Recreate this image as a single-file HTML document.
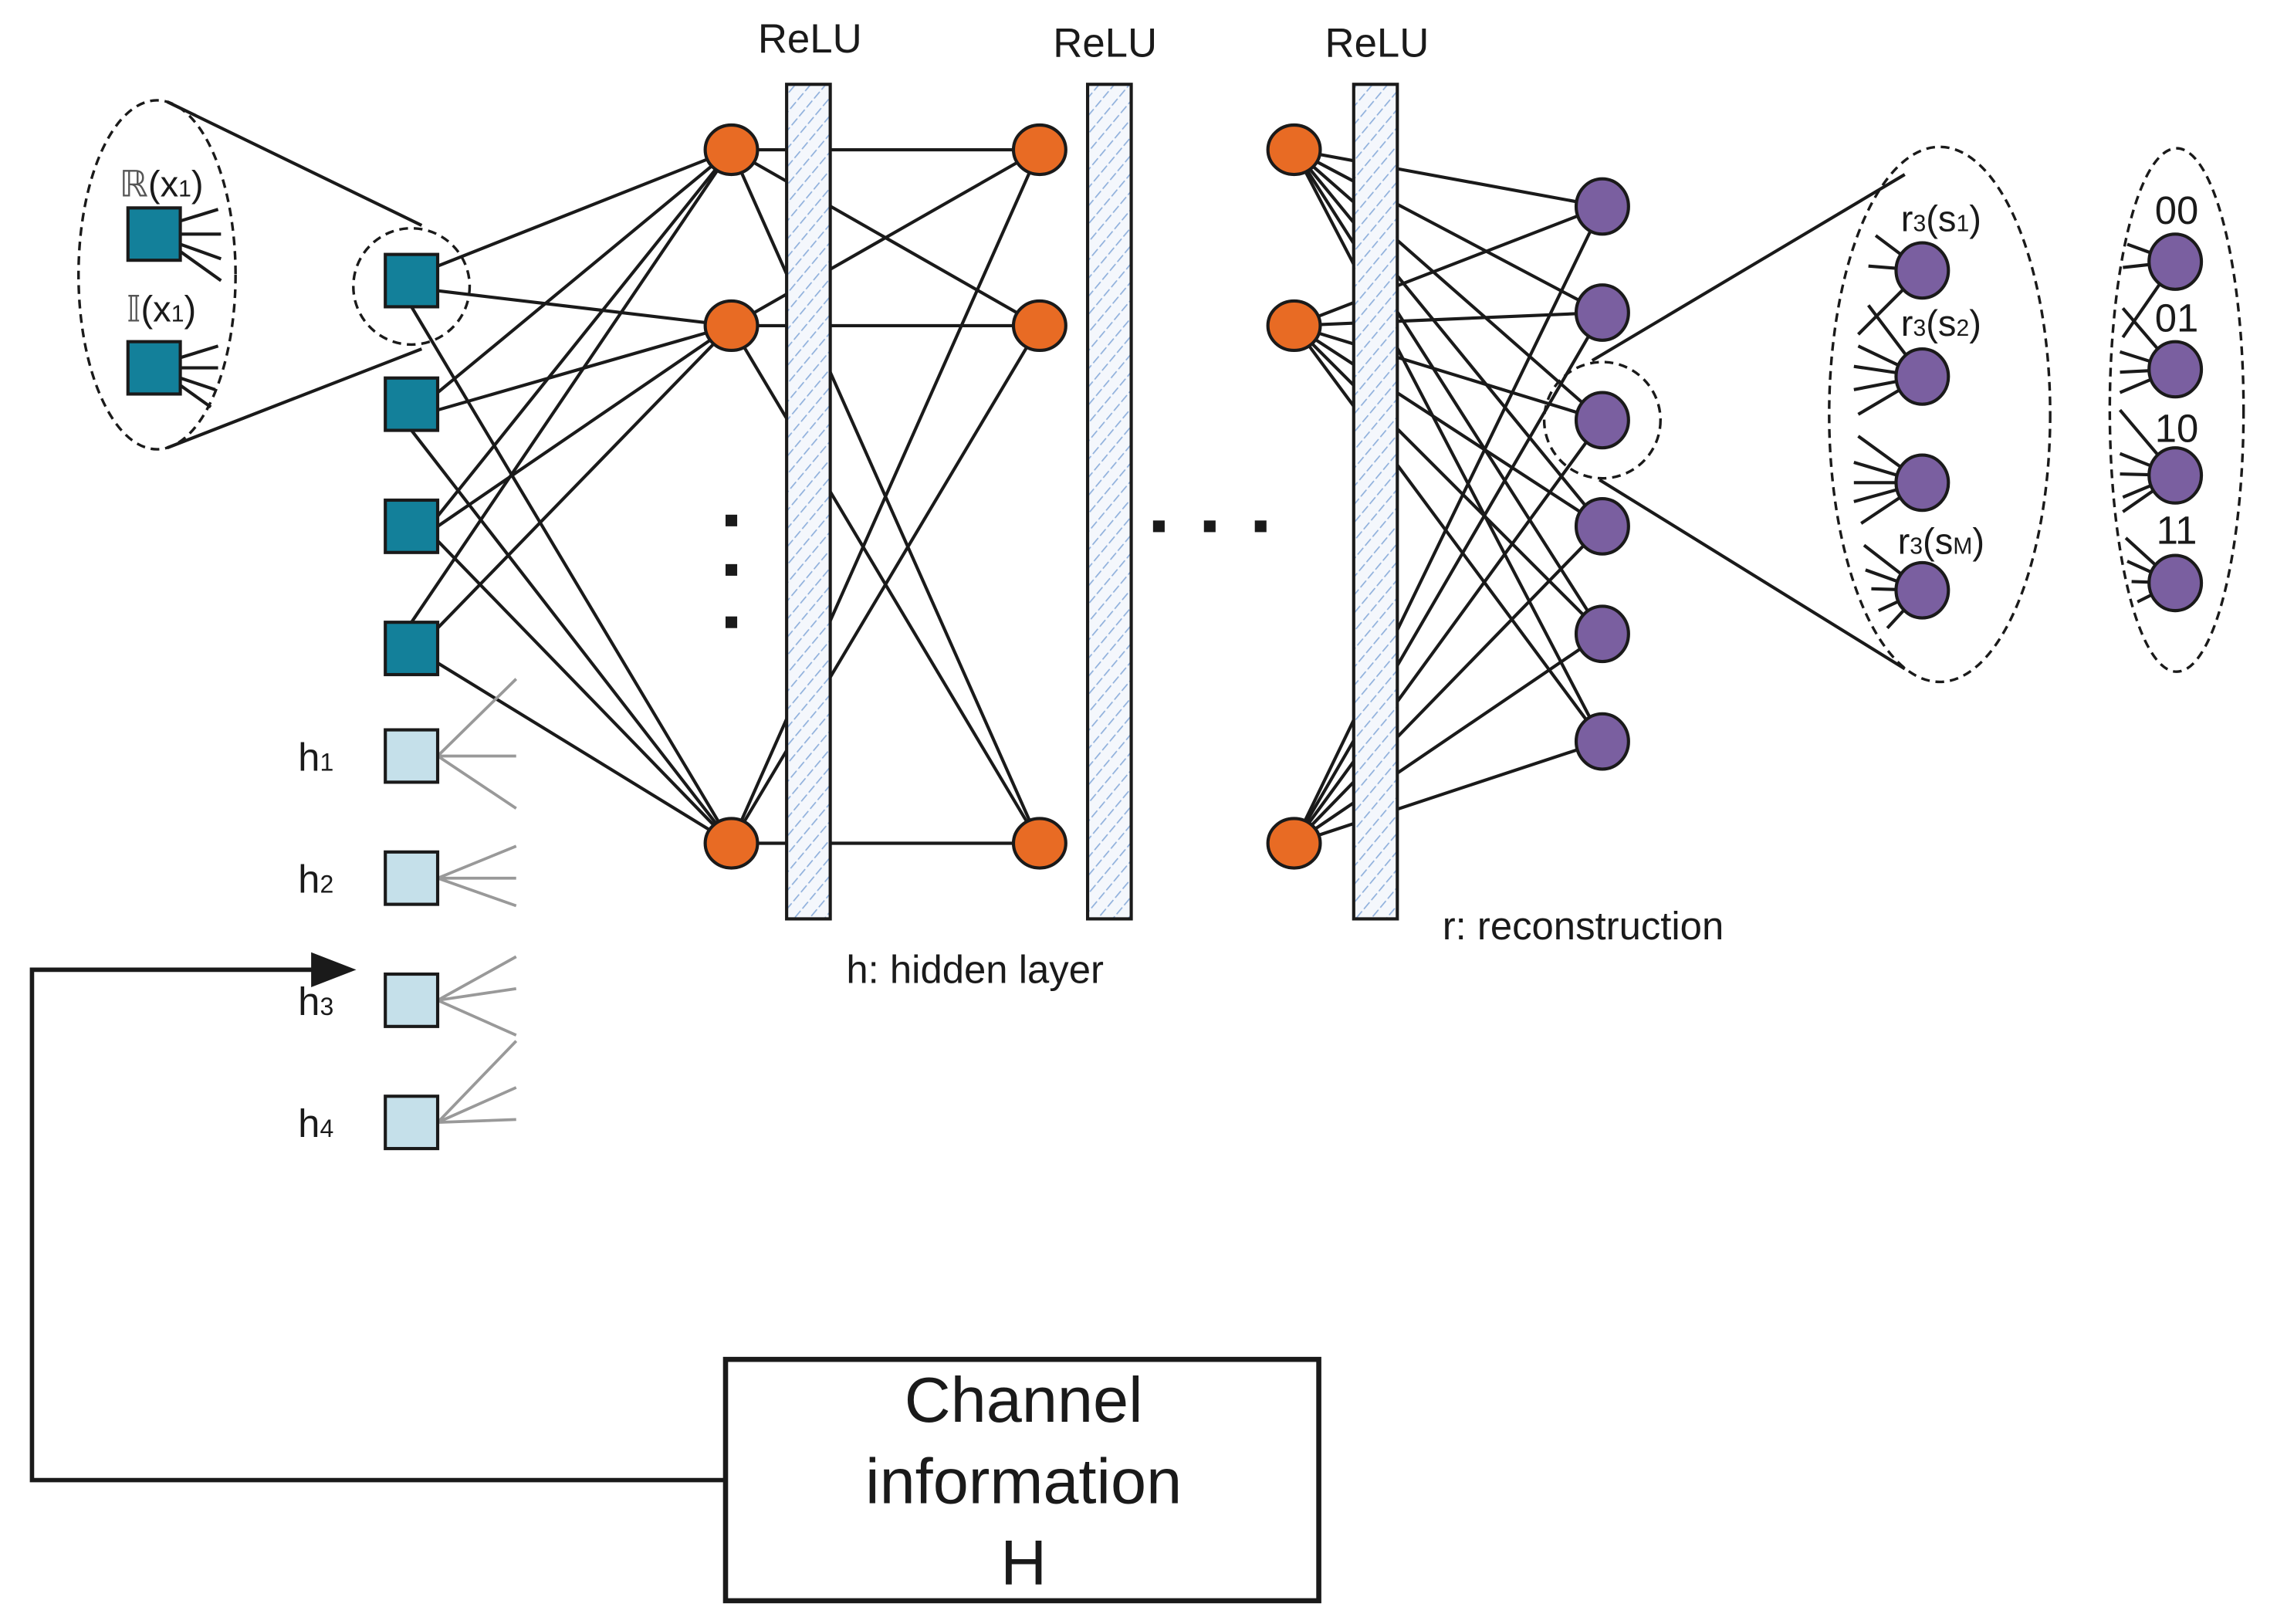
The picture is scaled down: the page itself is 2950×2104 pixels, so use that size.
<!DOCTYPE html>
<html><head><meta charset="utf-8"><style>html,body{margin:0;padding:0;background:#fff}svg{display:block}</style></head>
<body>
<svg xmlns="http://www.w3.org/2000/svg" width="2950" height="2104" viewBox="0 0 1566 1117" preserveAspectRatio="none" font-family="Liberation Sans, DejaVu Sans, sans-serif">
<defs>
<pattern id="hat" width="8" height="8" patternUnits="userSpaceOnUse" patternTransform="rotate(40)">
<rect width="8" height="8" fill="#f4f7fc"/><line x1="0" y1="0" x2="0" y2="8" stroke="#8fb0dc" stroke-width="1.8" stroke-dasharray="4 2"/>
</pattern>
</defs>
<rect width="1566" height="1117" fill="#fff"/>
<g stroke="#1a1a1a" stroke-width="2.2" fill="none">
<line x1="115" y1="70" x2="290" y2="155"/>
<line x1="115" y1="308" x2="290" y2="240"/>
<line x1="301" y1="183" x2="503" y2="103"/><line x1="301" y1="200" x2="503" y2="224"/><line x1="283" y1="211" x2="503" y2="580"/>
<line x1="301" y1="270" x2="503" y2="103"/><line x1="301" y1="282" x2="503" y2="224"/><line x1="283" y1="296" x2="503" y2="580"/>
<line x1="301" y1="355" x2="503" y2="103"/><line x1="301" y1="362" x2="503" y2="224"/><line x1="301" y1="372" x2="503" y2="580"/>
<line x1="283" y1="428" x2="503" y2="103"/><line x1="301" y1="432" x2="503" y2="224"/><line x1="301" y1="456" x2="503" y2="580"/>
<line x1="503" y1="103" x2="715" y2="103"/><line x1="503" y1="103" x2="715" y2="224"/><line x1="503" y1="103" x2="715" y2="580"/>
<line x1="503" y1="224" x2="715" y2="103"/><line x1="503" y1="224" x2="715" y2="224"/><line x1="503" y1="224" x2="715" y2="580"/>
<line x1="503" y1="580" x2="715" y2="103"/><line x1="503" y1="580" x2="715" y2="224"/><line x1="503" y1="580" x2="715" y2="580"/>
<line x1="890" y1="103" x2="1102" y2="142"/><line x1="890" y1="103" x2="1102" y2="215"/><line x1="890" y1="103" x2="1102" y2="289"/><line x1="890" y1="103" x2="1102" y2="362"/><line x1="890" y1="103" x2="1102" y2="436"/><line x1="890" y1="103" x2="1102" y2="510"/>
<line x1="890" y1="224" x2="1102" y2="142"/><line x1="890" y1="224" x2="1102" y2="215"/><line x1="890" y1="224" x2="1102" y2="289"/><line x1="890" y1="224" x2="1102" y2="362"/><line x1="890" y1="224" x2="1102" y2="436"/><line x1="890" y1="224" x2="1102" y2="510"/>
<line x1="890" y1="580" x2="1102" y2="142"/><line x1="890" y1="580" x2="1102" y2="215"/><line x1="890" y1="580" x2="1102" y2="289"/><line x1="890" y1="580" x2="1102" y2="362"/><line x1="890" y1="580" x2="1102" y2="436"/><line x1="890" y1="580" x2="1102" y2="510"/>
<line x1="1095" y1="248" x2="1310" y2="120"/>
<line x1="1100" y1="330" x2="1310" y2="460"/>
<path d="M124 152 L150 144 M124 161 L152 161 M124 168 L152 178 M124 173 L152 193 M124 246 L150 238 M124 253 L150 253 M124 260 L148 268 M124 265 L145 280"/>
<path d="M1322 186 L1290 162 M1322 186 L1285 183 M1322 186 L1278 230 M1322 259 L1285 210 M1322 259 L1278 238 M1322 259 L1275 252 M1322 259 L1275 268 M1322 259 L1278 285 M1322 332 L1278 300 M1322 332 L1275 318 M1322 332 L1275 332 M1322 332 L1275 345 M1322 332 L1280 360 M1322 406 L1282 375 M1322 406 L1283 392 M1322 406 L1287 405 M1322 406 L1292 420 M1322 406 L1298 432"/>
<path d="M1496 180 L1463 168 M1496 180 L1460 184 M1496 180 L1460 232 M1496 254 L1460 212 M1496 254 L1458 242 M1496 254 L1458 256 M1496 254 L1458 270 M1496 327 L1458 282 M1496 327 L1458 312 M1496 327 L1458 326 M1496 327 L1460 342 M1496 327 L1460 352 M1496 401 L1462 370 M1496 401 L1463 386 M1496 401 L1466 400 M1496 401 L1470 414"/>
</g>
<g stroke="#999" stroke-width="2" fill="none">
<path d="M301 520 L355 467 M301 520 L355 520 M301 520 L355 556"/>
<path d="M301 604 L355 582 M301 604 L355 604 M301 604 L355 623"/>
<path d="M301 688 L355 658 M301 688 L355 680 M301 688 L355 712"/>
<path d="M301 772 L355 716 M301 772 L355 748 M301 772 L355 770"/>
</g>
<g stroke="#1a1a1a" stroke-width="1.8" fill="none" stroke-dasharray="6 4">
<ellipse cx="108" cy="189" rx="54" ry="120"/>
<circle cx="283" cy="197" r="40"/>
<circle cx="1102" cy="289" r="40"/>
<ellipse cx="1334" cy="285" rx="76" ry="184"/>
<ellipse cx="1497" cy="282" rx="46" ry="180"/>
</g>
<g stroke="#1a1a1a" stroke-width="2.2" fill="url(#hat)">
<rect x="541" y="58" width="30" height="574"/>
<rect x="748" y="58" width="30" height="574"/>
<rect x="931" y="58" width="30" height="574"/>
</g>
<g stroke="#1a1a1a" stroke-width="2.2" fill="#13809a">
<rect x="265" y="175" width="36" height="36"/><rect x="265" y="260" width="36" height="36"/><rect x="265" y="344" width="36" height="36"/><rect x="265" y="428" width="36" height="36"/>
<rect x="88" y="143" width="36" height="36"/><rect x="88" y="235" width="36" height="36"/>
</g>
<g stroke="#1a1a1a" stroke-width="2.2" fill="#c5e0ea">
<rect x="265" y="502" width="36" height="36"/><rect x="265" y="586" width="36" height="36"/><rect x="265" y="670" width="36" height="36"/><rect x="265" y="754" width="36" height="36"/>
</g>
<g stroke="#1a1a1a" stroke-width="2.2" fill="#e86b24">
<ellipse cx="503" cy="103" rx="18" ry="17"/><ellipse cx="503" cy="224" rx="18" ry="17"/><ellipse cx="503" cy="580" rx="18" ry="17"/>
<ellipse cx="715" cy="103" rx="18" ry="17"/><ellipse cx="715" cy="224" rx="18" ry="17"/><ellipse cx="715" cy="580" rx="18" ry="17"/>
<ellipse cx="890" cy="103" rx="18" ry="17"/><ellipse cx="890" cy="224" rx="18" ry="17"/><ellipse cx="890" cy="580" rx="18" ry="17"/>
</g>
<g stroke="#1a1a1a" stroke-width="2.2" fill="#7a5fa0">
<ellipse cx="1102" cy="142" rx="18" ry="19"/><ellipse cx="1102" cy="215" rx="18" ry="19"/><ellipse cx="1102" cy="289" rx="18" ry="19"/><ellipse cx="1102" cy="362" rx="18" ry="19"/><ellipse cx="1102" cy="436" rx="18" ry="19"/><ellipse cx="1102" cy="510" rx="18" ry="19"/>
<ellipse cx="1322" cy="186" rx="18" ry="19"/><ellipse cx="1322" cy="259" rx="18" ry="19"/><ellipse cx="1322" cy="332" rx="18" ry="19"/><ellipse cx="1322" cy="406" rx="18" ry="19"/>
<ellipse cx="1496" cy="180" rx="18" ry="19"/><ellipse cx="1496" cy="254" rx="18" ry="19"/><ellipse cx="1496" cy="327" rx="18" ry="19"/><ellipse cx="1496" cy="401" rx="18" ry="19"/>
</g>
<g fill="#1a1a1a">
<rect x="499" y="354" width="8" height="8"/><rect x="499" y="388" width="8" height="8"/><rect x="499" y="424" width="8" height="8"/>
<rect x="793" y="358" width="8" height="8"/><rect x="828" y="358" width="8" height="8"/><rect x="863" y="358" width="8" height="8"/>
</g>
<path d="M498 1018 L22 1018 L22 667 L222 667" stroke="#1a1a1a" stroke-width="3" fill="none"/>
<polygon points="245,667 214,655 214,679" fill="#1a1a1a"/>
<rect x="499" y="935" width="408" height="166" stroke="#1a1a1a" stroke-width="3.5" fill="none"/>
<g fill="#1a1a1a" font-size="28" text-anchor="middle">
<text x="557" y="36">ReLU</text><text x="760" y="39">ReLU</text><text x="947" y="39">ReLU</text>
</g>
<g fill="#1a1a1a" font-size="27">
<text x="582" y="676">h: hidden layer</text>
<text x="992" y="646">r: reconstruction</text>
<text x="205" y="530">h<tspan font-size="17">1</tspan></text>
<text x="205" y="614">h<tspan font-size="17">2</tspan></text>
<text x="205" y="698">h<tspan font-size="17">3</tspan></text>
<text x="205" y="782">h<tspan font-size="17">4</tspan></text>
</g>
<g fill="#1a1a1a" font-size="25" text-anchor="middle">
<text x="111" y="135"><tspan font-family="DejaVu Sans" fill="#555">ℝ</tspan>(x<tspan font-size="16">1</tspan>)</text>
<text x="111" y="221"><tspan font-family="DejaVu Sans" fill="#555">𝕀</tspan>(x<tspan font-size="16">1</tspan>)</text>
<text x="1335" y="159">r<tspan font-size="16">3</tspan>(s<tspan font-size="16">1</tspan>)</text>
<text x="1335" y="231">r<tspan font-size="16">3</tspan>(s<tspan font-size="16">2</tspan>)</text>
<text x="1335" y="381">r<tspan font-size="16">3</tspan>(s<tspan font-size="16">M</tspan>)</text>
<text x="1497" y="154" font-size="27">00</text>
<text x="1497" y="228" font-size="27">01</text>
<text x="1497" y="304" font-size="27">10</text>
<text x="1497" y="374" font-size="27">11</text>
</g>
<g fill="#1a1a1a" font-size="44" text-anchor="middle">
<text x="704" y="978">Channel</text>
<text x="704" y="1034">information</text>
<text x="704" y="1090">H</text>
</g>
</svg>
</body></html>
